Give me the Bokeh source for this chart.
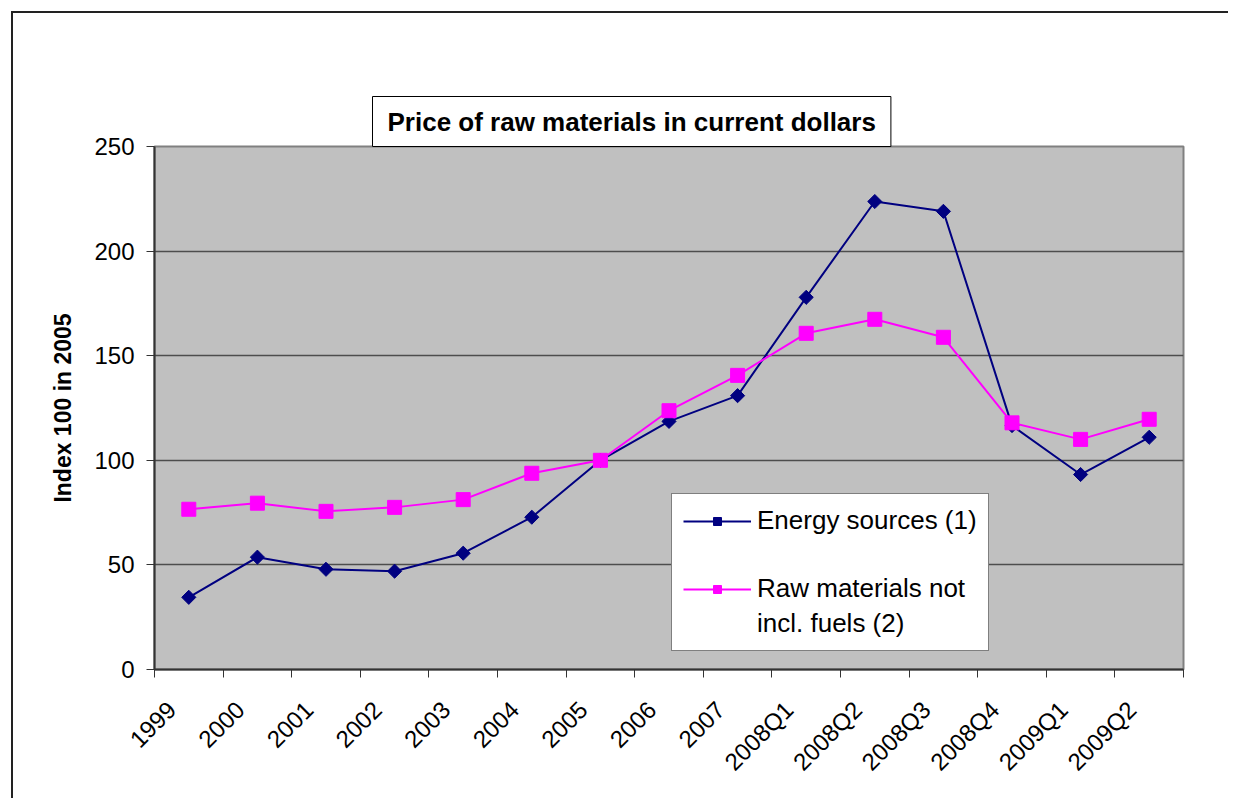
import math
from bokeh.plotting import figure
from bokeh.models import Range1d, FixedTicker, Legend, LegendItem, Title
from bokeh.embed import file_html
from bokeh.resources import INLINE

categories = ["1999", "2000", "2001", "2002", "2003", "2004", "2005", "2006", "2007",
              "2008Q1", "2008Q2", "2008Q3", "2008Q4", "2009Q1", "2009Q2"]
energy = [34.5, 53.7, 47.9, 47.0, 55.6, 72.8, 100, 118.6, 130.9, 177.9, 223.7, 219.0, 116.6, 93.2, 111.0]
raw = [76.6, 79.5, 75.6, 77.5, 81.2, 93.8, 100, 123.7, 140.6, 160.7, 167.4, 158.8, 117.9, 110.0, 119.6]
y_ticks = [0, 50, 100, 150, 200, 250]
title_text = "Price of raw materials in current dollars"
y_label = "Index 100 in 2005"
energy_name = "Energy sources (1)"
raw_name_lines = ["Raw materials not", "incl. fuels (2)"]

FONT = "Liberation Sans"
n = len(categories)
xs = [i + 0.5 for i in range(n)]
label_pos = [i + 0.25 for i in range(n)]

p = figure(width=1217, height=787, output_backend="svg", toolbar_location=None,
           x_range=Range1d(0, n), y_range=Range1d(0, 250),
           min_border_left=141, min_border_right=47, min_border_top=133, min_border_bottom=131)
p.title = None
p.margin = (11, 0, 0, 11)
p.styles = {"border-left": "2px solid #222222", "border-top": "2px solid #222222"}
p.background_fill_color = "#C0C0C0"
p.border_fill_color = "white"
p.outline_line_color = "#808080"
p.outline_line_width = 2

# x axis: labels at category centres, tick marks at boundaries
xa = p.xaxis[0]
xa.ticker = FixedTicker(ticks=label_pos, minor_ticks=list(range(n + 1)))
xa.major_label_overrides = {x: c for x, c in zip(label_pos, categories)}
xa.major_label_orientation = math.pi / 4
xa.major_tick_line_color = None
xa.major_tick_out = 0
xa.major_tick_in = 0
xa.minor_tick_out = 8
xa.minor_tick_in = 0
xa.minor_tick_line_color = "#333333"
xa.axis_line_color = "#333333"
xa.axis_line_width = 2
xa.major_label_standoff = 28
xa.major_label_text_font = FONT
xa.major_label_text_font_size = "24px"
xa.major_label_text_color = "black"

ya = p.yaxis[0]
ya.ticker = FixedTicker(ticks=y_ticks)
ya.minor_tick_line_color = None
ya.major_tick_out = 8
ya.major_tick_in = 0
ya.major_tick_line_color = "#333333"
ya.axis_line_color = "#333333"
ya.axis_line_width = 2
ya.major_label_standoff = 12
ya.major_label_text_font = FONT
ya.major_label_text_font_size = "24px"
ya.major_label_text_color = "black"
ya.axis_label = y_label
ya.axis_label_text_font = FONT
ya.axis_label_text_font_size = "23px"
ya.axis_label_text_font_style = "bold"
ya.axis_label_text_color = "black"
ya.axis_label_standoff = 15

p.xgrid.grid_line_color = None
p.ygrid.grid_line_color = "#4d4d4d"
p.ygrid.grid_line_width = 1.5

l1 = p.line(xs, energy, line_color="#000080", line_width=2)
m1 = p.scatter(xs, energy, marker="square", angle=math.pi / 4, size=10,
               fill_color="#000080", line_color="#000080")
l2 = p.line(xs, raw, line_color="#FF00FF", line_width=2)
m2 = p.scatter(xs, raw, marker="square", size=14, fill_color="#FF00FF", line_color="#FF00FF")

legend = Legend(items=[LegendItem(label=energy_name, renderers=[l1, m1]),
                       LegendItem(label=" ", renderers=[]),
                       LegendItem(label=raw_name_lines[0], renderers=[l2, m2]),
                       LegendItem(label=raw_name_lines[1], renderers=[])],
                location=(517, 18), border_line_color="black", border_line_width=1,
                background_fill_color="white", background_fill_alpha=1,
                label_text_font=FONT, label_text_font_size="26px", label_text_color="black",
                glyph_width=68, glyph_height=20, label_height=29, label_standoff=6,
                padding=11, spacing=4, margin=0)
p.add_layout(legend, "center")

# boxed title first (outermost), then an invisible spacer next to the frame
main_title = Title(text=title_text, align="left", offset=218, standoff=0,
                   text_font=FONT, text_font_size="26px", text_font_style="bold",
                   text_color="black", border_line_color="black", border_line_width=1,
                   background_fill_color="white", padding=(15, 10))
p.add_layout(main_title, "above")

spacer = Title(text=" ", text_font_size="1px", standoff=55, text_alpha=0)
p.add_layout(spacer, "above")

open("out.html", "w").write(file_html(p, INLINE))
